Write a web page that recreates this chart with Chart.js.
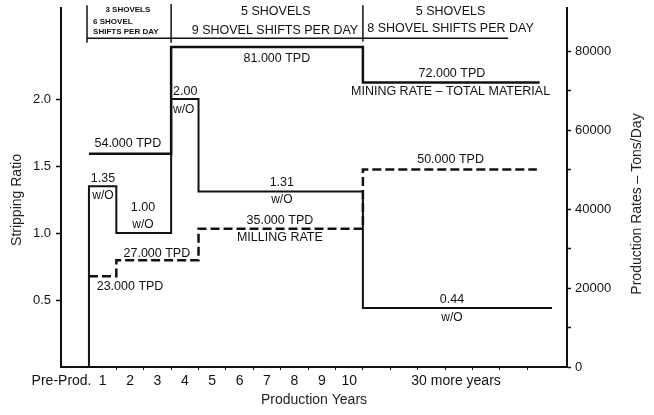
<!DOCTYPE html>
<html>
<head>
<meta charset="utf-8">
<script src="https://cdn.jsdelivr.net/npm/chart.js@4.4.1/dist/chart.umd.min.js"></script>
<style>
    html, body { margin: 0; padding: 0; background: #fff; }
    #wrap { width: 654px; height: 415px; }
</style>
</head>
<body>
<div id="wrap"><canvas id="mineChart" width="654" height="415"></canvas></div>
<script>
// ===== DATA =====
// x is measured in production years from the start of year 1
const stripYears = [0, 0, 1, 3, 4, 10, 16.9];
const stripRatio = [0, 1.35, 1.00, 2.00, 1.31, 0.44, 0.44];

const miningYears = [0, 3, 10, 16.45];
const miningTPD = [54000, 81000, 72000, 72000];

const millingYears = [0, 1, 4, 10, 16.35];
const millingTPD = [23000, 27000, 35000, 50000, 50000];

// shovel brackets along the top (left axis units), null = break
const bracketYears = [-0.07, -0.07, null, 3, 3, null, 10, 10, null, -0.07, 15.3];
const bracketLevel = [2.70, 2.42, null, 2.71, 2.42, null, 2.70, 2.43, null, 2.455, 2.455];

// axis ticks
const yearBoundaries = [1, 2, 3, 4, 5, 6, 7, 8, 9, 10, 11, 12, 13, 14, 15, 16];
const yearLabelPos = [-1, 0.5, 1.5, 2.5, 3.5, 4.5, 5.5, 6.5, 7.5, 8.5, 9.5, 13.4];
const yearLabels = ['Pre-Prod.', '1', '2', '3', '4', '5', '6', '7', '8', '9', '10', '30 more years'];
const ratioTicks = [0.5, 1.0, 1.5, 2.0];
const rateTicks = [0, 10000, 20000, 30000, 40000, 50000, 60000, 70000, 80000];

const FONT = '"Liberation Sans", Arial, Helvetica, sans-serif';

function toPoints(xs, ys) {
    return xs.map((x, i) => ({ x: x === null ? 0 : x, y: ys[i] }));
}

// ===== TEXT ANNOTATIONS =====
// [text, year, ratio-level, align, size, bold]
const notes = [
    ['54.000 TPD', 1.42, 1.665, 'center', 12.5],
    ['81.000 TPD', 6.86, 2.30, 'center', 12.5],
    ['72.000 TPD', 13.25, 2.19, 'center', 12.5],
    ['MINING RATE \u2013 TOTAL MATERIAL', 13.2, 2.06, 'center', 12.5],
    ['2.00', 3.07, 2.06, 'left', 12.5],
    ['w/O', 3.07, 1.92, 'left', 12],
    ['1.35', 0.51, 1.41, 'center', 12.5],
    ['w/O', 0.51, 1.28, 'center', 12],
    ['1.00', 1.97, 1.19, 'center', 12.5],
    ['w/O', 1.97, 1.06, 'center', 12],
    ['1.31', 7.04, 1.38, 'center', 12.5],
    ['w/O', 7.04, 1.25, 'center', 12],
    ['0.44', 13.25, 0.50, 'center', 12.5],
    ['w/O', 13.25, 0.366, 'center', 12],
    ['50.000 TPD', 13.2, 1.545, 'center', 12.5],
    ['35.000 TPD', 6.97, 1.09, 'center', 12.5],
    ['MILLING RATE', 6.97, 0.963, 'center', 12.5],
    ['27.000 TPD', 2.48, 0.85, 'center', 12.5],
    ['23.000 TPD', 1.5, 0.597, 'center', 12.5],
    ['3 SHOVELS', 1.42, 2.665, 'center', 8, true],
    ['6 SHOVEL', 0.15, 2.58, 'left', 8, true],
    ['SHIFTS PER DAY', 0.15, 2.50, 'left', 8, true],
    ['5 SHOVELS', 6.82, 2.65, 'center', 12.5],
    ['9 SHOVEL SHIFTS PER DAY', 6.79, 2.515, 'center', 12.5],
    ['5 SHOVELS', 13.2, 2.657, 'center', 12.5],
    ['8 SHOVEL SHIFTS PER DAY', 13.2, 2.523, 'center', 12.5]
];

const notesPlugin = {
    id: 'notes',
    afterDatasetsDraw(chart) {
        const ctx = chart.ctx;
        const xs = chart.scales.x;
        const ys = chart.scales.y;
        ctx.save();
        ctx.fillStyle = '#111';
        ctx.textBaseline = 'middle';
        notes.forEach(n => {
            ctx.font = (n[5] ? 'bold ' : '') + n[4] + 'px ' + FONT;
            ctx.textAlign = n[3];
            ctx.fillText(n[0], xs.getPixelForValue(n[1]), ys.getPixelForValue(n[2]));
        });

        // axis titles
        ctx.font = '14px ' + FONT;
        ctx.textAlign = 'center';
        ctx.fillStyle = '#222';
        ctx.fillText('Production Years', (chart.chartArea.left + chart.chartArea.right) / 2, 400);

        ctx.translate(17, 200);
        ctx.rotate(-Math.PI / 2);
        ctx.fillText('Stripping Ratio', 0, 0);
        ctx.restore();

        ctx.save();
        ctx.font = '14px ' + FONT;
        ctx.textAlign = 'center';
        ctx.textBaseline = 'middle';
        ctx.fillStyle = '#222';
        ctx.translate(637, 204);
        ctx.rotate(-Math.PI / 2);
        ctx.fillText('Production Rates \u2013 Tons/Day', 0, 0);
        ctx.restore();
    }
};

// ===== CHART =====
new Chart(document.getElementById('mineChart'), {
    type: 'line',
    data: {
        datasets: [
            {
                label: 'Stripping Ratio',
                data: toPoints(stripYears, stripRatio),
                yAxisID: 'y',
                stepped: 'before',
                borderColor: '#111',
                borderWidth: 2,
                pointRadius: 0,
                fill: false
            },
            {
                label: 'Mining Rate',
                data: toPoints(miningYears, miningTPD),
                yAxisID: 'y1',
                stepped: 'before',
                borderColor: '#111',
                borderWidth: 2.5,
                pointRadius: 0,
                fill: false
            },
            {
                label: 'Milling Rate',
                data: toPoints(millingYears, millingTPD),
                yAxisID: 'y1',
                stepped: 'before',
                borderColor: '#111',
                borderWidth: 2.5,
                borderDash: [9, 4],
                pointRadius: 0,
                fill: false
            },
            {
                label: 'Shovels',
                data: toPoints(bracketYears, bracketLevel),
                yAxisID: 'y',
                borderColor: '#111',
                borderWidth: 1.5,
                pointRadius: 0,
                spanGaps: false,
                clip: false,
                fill: false
            }
        ]
    },
    options: {
        responsive: false,
        animation: false,
        layout: { padding: { top: 8, left: 0, right: 0, bottom: 0 } },
        plugins: {
            legend: { display: false },
            tooltip: { enabled: false }
        },
        scales: {
            x: {
                type: 'linear',
                min: -1.02,
                max: 17.45,
                afterBuildTicks: (scale) => {
                    const t = yearBoundaries.map(v => ({ value: v }));
                    yearLabelPos.forEach(v => t.push({ value: v }));
                    scale.ticks = t;
                },
                afterFit: (scale) => {
                    scale.height = 48;
                    scale.paddingLeft = 0;
                    scale.paddingRight = 0;
                },
                border: { display: true, color: '#111', width: 2 },
                grid: {
                    drawOnChartArea: false,
                    drawTicks: true,
                    tickLength: 3,
                    tickColor: (ctx) => (ctx.tick && yearBoundaries.includes(ctx.tick.value)) ? '#111' : 'rgba(0,0,0,0)'
                },
                ticks: {
                    autoSkip: false,
                    maxRotation: 0,
                    padding: 3,
                    color: '#111',
                    font: { family: FONT, size: 14 },
                    callback: (value) => {
                        const i = yearLabelPos.indexOf(value);
                        return i >= 0 ? yearLabels[i] : '';
                    }
                }
            },
            y: {
                type: 'linear',
                position: 'left',
                min: 0,
                max: 2.68,
                afterBuildTicks: (scale) => { scale.ticks = ratioTicks.map(v => ({ value: v })); },
                afterFit: (scale) => {
                    scale.width = 61;
                    scale.paddingTop = 0;
                    scale.paddingBottom = 0;
                },
                border: { display: true, color: '#111', width: 2 },
                grid: { drawOnChartArea: false, tickLength: 5, tickColor: '#111', tickWidth: 1.5 },
                ticks: {
                    padding: 5,
                    color: '#111',
                    font: { family: FONT, size: 13 },
                    callback: (value) => value.toFixed(1)
                }
            },
            y1: {
                type: 'linear',
                position: 'right',
                min: 0,
                max: 90890,
                afterBuildTicks: (scale) => { scale.ticks = rateTicks.map(v => ({ value: v })); },
                afterFit: (scale) => {
                    scale.width = 87;
                    scale.paddingTop = 0;
                    scale.paddingBottom = 0;
                },
                border: { display: true, color: '#111', width: 2 },
                grid: { drawOnChartArea: false, tickLength: 4, tickColor: '#111', tickWidth: 1.5 },
                ticks: {
                    autoSkip: false,
                    padding: 4,
                    color: '#111',
                    font: { family: FONT, size: 13 },
                    callback: (value) => (value % 20000 === 0 ? String(value) : '')
                }
            }
        }
    },
    plugins: [notesPlugin]
});
</script>
</body>
</html>
